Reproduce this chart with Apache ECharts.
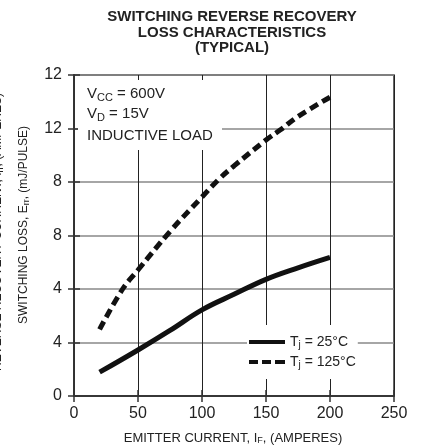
<!DOCTYPE html>
<html><head><meta charset="utf-8">
<script src="https://cdn.jsdelivr.net/npm/echarts@6/dist/echarts.min.js"></script>
<style>html,body{margin:0;padding:0;background:#fff}#c{width:424px;height:446px}</style>
</head><body><div id="c"></div>
<script>
const FONT = "Liberation Sans, Arial, Helvetica, sans-serif";
const xTicks = [0, 50, 100, 150, 200, 250];
const yTickLabels = ["0", "4", "4", "8", "8", "12", "12"];
const x25 = [20, 50, 75, 100, 125, 150, 175, 200];
const e25 = [0.89, 1.72, 2.45, 3.22, 3.80, 4.36, 4.79, 5.18];
const x125 = [20, 38, 50, 75, 100, 114, 125, 150, 161, 175, 200];
const e125 = [2.49, 4.0, 4.71, 6.15, 7.44, 8.14, 8.6, 9.57, 9.94, 10.45, 11.17];
const seriesNames = ["25", "125"];
const legendLabels = {"25": "{n|T}{s|j}{n| = 25°C}", "125": "{n|T}{s|j}{n| = 125°C}"};

const chart = echarts.init(document.getElementById('c'), null, {renderer: 'canvas'});
const pair = (xs, ys) => xs.map((x, i) => [x, ys[i]]);
const tickStyle = {show: true, inside: true, length: 6, lineStyle: {color: '#333', width: 1.5}};
const subStyle = (fs, pad) => ({fontSize: fs, lineHeight: fs + pad, verticalAlign: 'bottom', padding: [pad, 0, 0, 0], fontFamily: FONT, fill: '#222', color: '#222'});

chart.setOption({
  animation: false,
  textStyle: {fontFamily: FONT},
  grid: {left: 74, right: 30, top: 75, bottom: 50, show: true, borderColor: '#333', borderWidth: 1.5},
  xAxis: [
    {type: 'value', min: xTicks[0], max: xTicks[xTicks.length - 1], interval: 50, position: 'bottom',
     axisLine: {show: true, lineStyle: {color: '#333', width: 1.5}}, axisTick: tickStyle,
     axisLabel: {fontSize: 16, color: '#222', margin: 10, fontFamily: FONT},
     splitLine: {show: true, lineStyle: {color: '#222', width: 1}}},
    {type: 'value', min: 0, max: 250, interval: 50, position: 'top',
     axisLine: {show: true, lineStyle: {color: '#333', width: 1.5}}, axisTick: tickStyle,
     axisLabel: {show: false}, splitLine: {show: false}}
  ],
  yAxis: [
    {type: 'value', min: 0, max: 12, interval: 2, position: 'left',
     axisLine: {show: true, lineStyle: {color: '#333', width: 1.5}}, axisTick: tickStyle,
     axisLabel: {fontSize: 16, color: '#222', margin: 12, fontFamily: FONT,
       formatter: v => yTickLabels[Math.round(v / 2)]},
     splitLine: {show: true, lineStyle: {color: '#888', width: 1.5}}},
    {type: 'value', min: 0, max: 12, interval: 2, position: 'right',
     axisLine: {show: true, lineStyle: {color: '#333', width: 1.5}}, axisTick: tickStyle,
     axisLabel: {show: false}, splitLine: {show: false}}
  ],
  legend: {
    orient: 'vertical', left: 247, top: 325, padding: [8.5, 2, 8.5, 2], itemGap: 3,
    itemWidth: 36, itemHeight: 4, backgroundColor: '#fff', z: 20,
    data: [
      {name: seriesNames[0], icon: 'path://M0,0H36V4H0Z'},
      {name: seriesNames[1], icon: 'path://M0,0H9V4H0Z M13,0H22V4H13Z M26,0H36V4H26Z'}
    ],
    formatter: n => legendLabels[n],
    textStyle: {fontFamily: FONT, color: '#222', rich: {
      n: {fontSize: 14, lineHeight: 14, fontFamily: FONT, color: '#222'},
      s: subStyle(10, 7)}}
  },
  series: [
    {name: seriesNames[0], type: 'line', data: pair(x25, e25), smooth: 0.4, symbol: 'none', showSymbol: false, z: 5,
     lineStyle: {color: '#111', width: 5}, itemStyle: {color: '#111'}},
    {name: seriesNames[1], type: 'line', data: pair(x125, e125), smooth: 0.4, symbol: 'none', showSymbol: false, z: 5,
     lineStyle: {color: '#111', width: 5, type: [9, 5]}, itemStyle: {color: '#111'}}
  ],
  graphic: [
    {type: 'text', x: 232, y: 17, z: 10, style: {text: 'SWITCHING REVERSE RECOVERY', font: 'bold 15px ' + FONT, fill: '#222', textAlign: 'center', textVerticalAlign: 'middle'}},
    {type: 'text', x: 232, y: 32.5, z: 10, style: {text: 'LOSS CHARACTERISTICS', font: 'bold 15px ' + FONT, fill: '#222', textAlign: 'center', textVerticalAlign: 'middle'}},
    {type: 'text', x: 232, y: 48, z: 10, style: {text: '(TYPICAL)', font: 'bold 15px ' + FONT, fill: '#222', textAlign: 'center', textVerticalAlign: 'middle'}},
    {type: 'rect', z: 10, shape: {x: 78, y: 80, width: 144, height: 70}, style: {fill: '#fff'}},
    {type: 'text', x: 87, y: 94, z: 11, style: {text: '{n|V}{s|CC}{n| = 600V}', textVerticalAlign: 'middle',
      rich: {n: {fontSize: 15, lineHeight: 15, fontFamily: FONT, fill: '#222'}, s: subStyle(11, 8)}}},
    {type: 'text', x: 87, y: 114, z: 11, style: {text: '{n|V}{s|D}{n| = 15V}', textVerticalAlign: 'middle',
      rich: {n: {fontSize: 15, lineHeight: 15, fontFamily: FONT, fill: '#222'}, s: subStyle(11, 8)}}},
    {type: 'text', x: 87, y: 136, z: 11, style: {text: 'INDUCTIVE LOAD', font: '15px ' + FONT, fill: '#222', textVerticalAlign: 'middle'}},
    {type: 'text', x: 24, y: 225, z: 10, rotation: Math.PI / 2, style: {text: '{n|SWITCHING LOSS, E}{s|rr}{n|, (mJ/PULSE)}', textAlign: 'center', textVerticalAlign: 'middle',
      rich: {n: {fontSize: 12, lineHeight: 12, fontFamily: FONT, fill: '#222'}, s: subStyle(9, 6)}}},
    {type: 'text', x: -2, y: 232, z: 10, rotation: Math.PI / 2, style: {text: '{n|REVERSE RECOVERY CURRENT, I}{s|rr}{n|, (AMPERES)}', textAlign: 'center', textVerticalAlign: 'middle',
      rich: {n: {fontSize: 12, lineHeight: 12, fontFamily: FONT, fill: '#222'}, s: subStyle(9, 6)}}},
    {type: 'text', x: 233, y: 438, z: 10, style: {text: '{n|EMITTER CURRENT, I}{s|F}{n|, (AMPERES)}', textAlign: 'center', textVerticalAlign: 'middle',
      rich: {n: {fontSize: 13, lineHeight: 13, fontFamily: FONT, fill: '#222'}, s: subStyle(9, 6)}}}
  ]
});
</script></body></html>
